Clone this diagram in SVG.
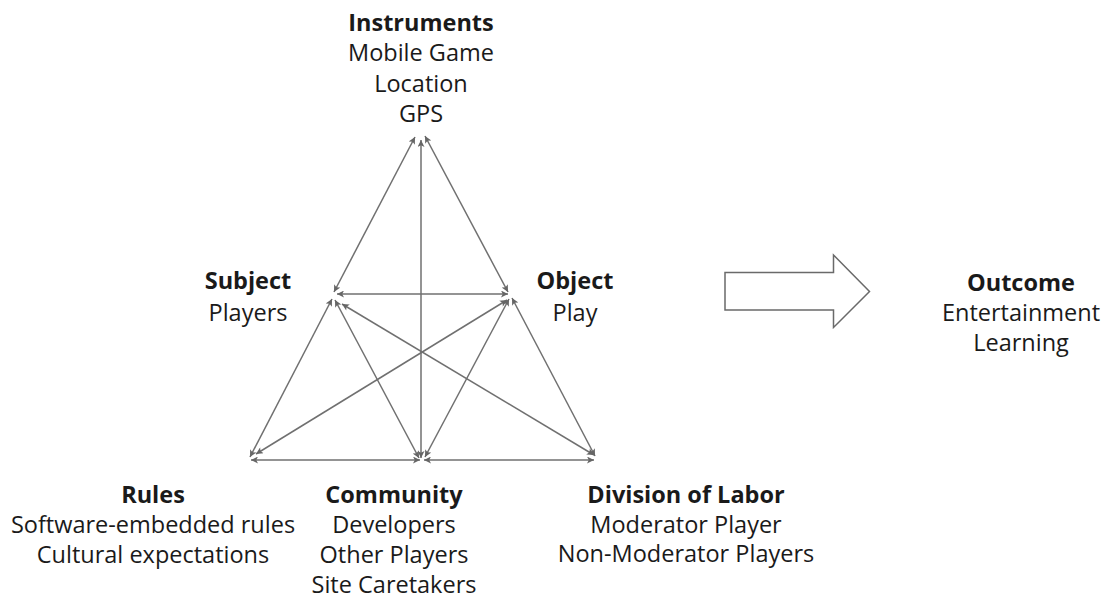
<svg xmlns="http://www.w3.org/2000/svg" width="1107" height="600" viewBox="0 0 1107 600">
  <style>
    text { font-family: "Open Sans", "Noto Sans", "Liberation Sans", sans-serif; font-size: 23.5px; fill: #1a1a1a; text-anchor: middle; }
    .title { font-weight: bold; }
    .link { stroke: #707070; stroke-width: 1.5; fill: none; marker-start: url(#head); marker-end: url(#head); }
    .bigarrow { fill: #ffffff; stroke: #6a6a6a; stroke-width: 1.5; }
  </style>
  <defs>
    <marker id="head" viewBox="0 0 10 10" refX="10" refY="5" markerWidth="8" markerHeight="7" markerUnits="userSpaceOnUse" orient="auto-start-reverse">
      <path d="M0,0 L10,5 L0,10 L2.5,5 Z" fill="#666666"/>
    </marker>
  </defs>
  <rect width="1107" height="600" fill="#ffffff"/>

  <!-- connectors between the activity-system elements -->
  <g id="connectors">
    <line class="link" x1="334" y1="292" x2="415" y2="137"/>
    <line class="link" x1="508" y1="292" x2="425" y2="136"/>
    <line class="link" x1="421" y1="458" x2="421" y2="140"/>
    <line class="link" x1="337" y1="294" x2="508" y2="294"/>
    <line class="link" x1="332" y1="299" x2="250" y2="457"/>
    <line class="link" x1="335" y1="300" x2="419" y2="458"/>
    <line class="link" x1="342" y1="304" x2="594" y2="455"/>
    <line class="link" x1="507" y1="300" x2="256" y2="454"/>
    <line class="link" x1="509" y1="299" x2="425" y2="457"/>
    <line class="link" x1="512" y1="298" x2="595" y2="456"/>
    <line class="link" x1="251" y1="460" x2="420" y2="460"/>
    <line class="link" x1="424" y1="460" x2="594" y2="460"/>
  </g>

  <g id="instruments">
    <text class="title" x="421" y="31">Instruments</text>
    <text x="421" y="61">Mobile Game</text>
    <text x="421" y="92">Location</text>
    <text x="421" y="122">GPS</text>
  </g>

  <g id="subject">
    <text class="title" x="248" y="289">Subject</text>
    <text x="248" y="321">Players</text>
  </g>

  <g id="object">
    <text class="title" x="575" y="289">Object</text>
    <text x="575" y="321">Play</text>
  </g>

  <g id="rules">
    <text class="title" x="153" y="503">Rules</text>
    <text x="153" y="533">Software-embedded rules</text>
    <text x="153" y="563">Cultural expectations</text>
  </g>

  <g id="community">
    <text class="title" x="394" y="503">Community</text>
    <text x="394" y="533">Developers</text>
    <text x="394" y="563">Other Players</text>
    <text x="394" y="593">Site Caretakers</text>
  </g>

  <g id="division">
    <text class="title" x="686" y="503">Division of Labor</text>
    <text x="686" y="533">Moderator Player</text>
    <text x="686" y="562">Non-Moderator Players</text>
  </g>

  <g id="transition">
    <path class="bigarrow" d="M725,272.5 L833.5,272.5 L833.5,255 L869.5,291.5 L833.5,327.5 L833.5,310 L725,310 Z"/>
  </g>

  <g id="outcome">
    <text class="title" x="1021" y="291">Outcome</text>
    <text x="1021" y="321">Entertainment</text>
    <text x="1021" y="351">Learning</text>
  </g>
</svg>
